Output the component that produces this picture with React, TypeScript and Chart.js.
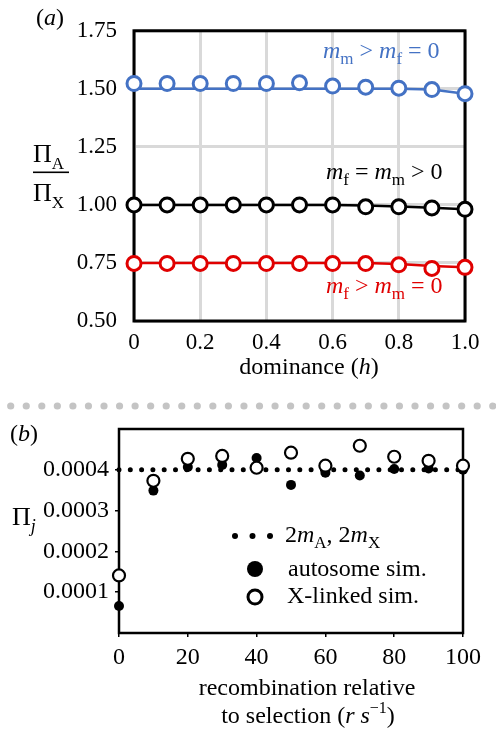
import React, { useEffect, useRef } from 'react';
import { Chart, registerables } from 'chart.js';

Chart.register(...registerables);

// ---------- Panel (a) data ----------
const dominance = [0, 0.1, 0.2, 0.3, 0.4, 0.5, 0.6, 0.7, 0.8, 0.9, 1.0];
const simMaleOnly = [1.523, 1.523, 1.523, 1.523, 1.523, 1.526, 1.512, 1.507, 1.503, 1.497, 1.479];
const theoryMaleOnly = [1.5, 1.5, 1.5, 1.5, 1.5, 1.5, 1.5, 1.5, 1.5, 1.497, 1.479];
const simEqual = [1.0, 1.0, 1.0, 1.0, 1.0, 1.0, 1.0, 0.992, 0.992, 0.987, 0.981];
const theoryEqual = [1.0, 1.0, 1.0, 1.0, 1.0, 1.0, 1.0, 0.997, 0.993, 0.988, 0.981];
const simFemaleOnly = [0.748, 0.748, 0.748, 0.748, 0.7475, 0.7475, 0.7475, 0.7475, 0.742, 0.7265, 0.731];
const theoryFemaleOnly = [0.75, 0.75, 0.75, 0.75, 0.75, 0.75, 0.75, 0.75, 0.745, 0.737, 0.731];
const xTicksA = [0, 0.2, 0.4, 0.6, 0.8, 1.0];
const yTicksA = [0.5, 0.75, 1.0, 1.25, 1.5, 1.75];

// ---------- Panel (b) data ----------
const recombination = [0, 10, 20, 30, 40, 50, 60, 70, 80, 90, 100];
const autosomeSim = [0.000066, 0.000349, 0.000407, 0.000412, 0.000429, 0.000363, 0.000393, 0.000386, 0.000402, 0.000403, 0.0004];
const xlinkedSim = [0.000141, 0.000373, 0.000427, 0.000434, 0.000405, 0.000442, 0.00041, 0.000459, 0.000432, 0.000422, 0.00041];
const expectedX = [0, 100];
const expectedY = [0.0004, 0.0004];
const xTicksB = [0, 20, 40, 60, 80, 100];
const yTicksB = [0.0001, 0.0002, 0.0003, 0.0004];

const FONT = '"Liberation Serif", "Times New Roman", serif';
const BLUE = '#4472C4';
const RED = '#E00000';
const BLACK = '#000000';

type Part = { t: string; i?: boolean; sub?: boolean; sup?: boolean };

function drawRich(
  ctx: CanvasRenderingContext2D,
  parts: Part[],
  x: number,
  y: number,
  size: number,
  color: string,
  align: 'left' | 'center' = 'left',
  subSize?: number
) {
  const ss = subSize ?? Math.round(size * 0.7);
  const fontFor = (p: Part) => `${p.i ? 'italic ' : ''}${p.sub || p.sup ? ss : size}px ${FONT}`;
  let w = 0;
  for (const p of parts) {
    ctx.font = fontFor(p);
    w += ctx.measureText(p.t).width;
  }
  let cx = align === 'center' ? x - w / 2 : x;
  ctx.save();
  ctx.fillStyle = color;
  ctx.textAlign = 'left';
  ctx.textBaseline = 'alphabetic';
  for (const p of parts) {
    ctx.font = fontFor(p);
    const dy = p.sub ? size * 0.25 : p.sup ? -size * 0.4 : 0;
    ctx.fillText(p.t, cx, y + dy);
    cx += ctx.measureText(p.t).width;
  }
  ctx.restore();
}

const pts = (xs: number[], ys: number[]) => xs.map((x, i) => ({ x, y: ys[i] }));

export default function App() {
  const refA = useRef<HTMLCanvasElement>(null);
  const refB = useRef<HTMLCanvasElement>(null);

  useEffect(() => {
    const framePlugin = (lw: number) => ({
      id: 'frame',
      beforeDatasetsDraw(chart: any) {
        const { ctx, chartArea: a } = chart;
        ctx.save();
        ctx.strokeStyle = '#000';
        ctx.lineWidth = lw;
        ctx.strokeRect(a.left, a.top, a.right - a.left, a.bottom - a.top);
        ctx.restore();
      },
    });

    const textA = {
      id: 'textA',
      afterDraw(chart: any) {
        const ctx = chart.ctx as CanvasRenderingContext2D;
        drawRich(ctx, [{ t: '(' }, { t: 'a', i: true }, { t: ')' }], 36, 25, 24, BLACK);
        // y-axis label fraction
        drawRich(ctx, [{ t: 'Π' }, { t: 'A', sub: true }], 33, 162, 26, BLACK, 'left', 17);
        ctx.save();
        ctx.fillStyle = '#000';
        ctx.fillRect(33, 171.5, 36, 1.6);
        ctx.restore();
        drawRich(ctx, [{ t: 'Π' }, { t: 'X', sub: true }], 33, 201, 26, BLACK, 'left', 17);
        // series annotations
        drawRich(
          ctx,
          [{ t: 'm', i: true }, { t: 'm', sub: true }, { t: ' > ' }, { t: 'm', i: true }, { t: 'f', sub: true }, { t: ' = 0' }],
          323, 58, 24, BLUE, 'left', 17
        );
        drawRich(
          ctx,
          [{ t: 'm', i: true }, { t: 'f', sub: true }, { t: ' = ' }, { t: 'm', i: true }, { t: 'm', sub: true }, { t: ' > 0' }],
          326, 179, 24, BLACK, 'left', 17
        );
        drawRich(
          ctx,
          [{ t: 'm', i: true }, { t: 'f', sub: true }, { t: ' > ' }, { t: 'm', i: true }, { t: 'm', sub: true }, { t: ' = 0' }],
          326, 293, 24, RED, 'left', 17
        );
        // x title
        drawRich(ctx, [{ t: 'dominance (' }, { t: 'h', i: true }, { t: ')' }], 309, 374, 24, BLACK, 'center');
      },
    };

    const circles = (ys: number[], color: string) => ({
      data: pts(dominance, ys),
      showLine: false,
      pointRadius: 7,
      pointBorderWidth: 3,
      pointBorderColor: color,
      pointBackgroundColor: '#ffffff',
      clip: false as any,
      order: 0,
    });
    const theory = (ys: number[], color: string) => ({
      data: pts(dominance, ys),
      showLine: true,
      borderColor: color,
      borderWidth: 2.5,
      pointRadius: 0,
      clip: false as any,
      order: 1,
    });

    const chartA = new Chart(refA.current!, {
      type: 'scatter',
      data: {
        datasets: [
          circles(simMaleOnly, BLUE),
          circles(simEqual, BLACK),
          circles(simFemaleOnly, RED),
          theory(theoryMaleOnly, BLUE),
          theory(theoryEqual, BLACK),
          theory(theoryFemaleOnly, RED),
        ] as any,
      },
      options: {
        animation: false,
        responsive: false,
        maintainAspectRatio: false,
        events: [],
        layout: { padding: { left: 0, right: 31, top: 20, bottom: 0 } },
        plugins: { legend: { display: false }, tooltip: { enabled: false } },
        scales: {
          x: {
            type: 'linear',
            min: 0,
            max: 1,
            afterBuildTicks: (s: any) => {
              s.ticks = xTicksA.map((v) => ({ value: v }));
            },
            afterFit: (s: any) => {
              s.height = 79;
            },
            grid: { color: '#d9d9d9', lineWidth: 3, drawTicks: false },
            border: { display: false },
            ticks: {
              padding: 8,
              color: '#000',
              font: { family: FONT, size: 23 },
              maxRotation: 0,
              callback: (v: any) => (Number(v) === 0 ? '0' : Number(v).toFixed(1)),
            },
          },
          y: {
            type: 'linear',
            min: 0.5,
            max: 1.75,
            afterBuildTicks: (s: any) => {
              s.ticks = yTicksA.map((v) => ({ value: v }));
            },
            afterFit: (s: any) => {
              s.width = 134;
            },
            grid: { color: '#d9d9d9', lineWidth: 3, drawTicks: false },
            border: { display: false },
            ticks: {
              padding: 17,
              color: '#000',
              font: { family: FONT, size: 23 },
              callback: (v: any) => Number(v).toFixed(2),
            },
          },
        },
      } as any,
      plugins: [framePlugin(3), textA],
    });

    const textB = {
      id: 'textB',
      beforeDraw(chart: any) {
        const ctx = chart.ctx as CanvasRenderingContext2D;
        // dotted separator
        ctx.save();
        ctx.fillStyle = '#c4c4c4';
        for (let x = 10.7; x < 496; x += 15.55) {
          ctx.beginPath();
          ctx.arc(x, 6, 3.6, 0, Math.PI * 2);
          ctx.fill();
        }
        ctx.restore();
      },
      afterDraw(chart: any) {
        const ctx = chart.ctx as CanvasRenderingContext2D;
        drawRich(ctx, [{ t: '(' }, { t: 'b', i: true }, { t: ')' }], 10, 41, 24, BLACK);
        drawRich(ctx, [{ t: 'Π' }, { t: 'j', i: true, sub: true }], 12, 125, 26, BLACK, 'left', 18);
        // legend
        ctx.save();
        ctx.fillStyle = '#000';
        for (const dx of [235, 252.5, 270]) {
          ctx.beginPath();
          ctx.arc(dx, 136, 3, 0, Math.PI * 2);
          ctx.fill();
        }
        ctx.beginPath();
        ctx.arc(255, 169, 8, 0, Math.PI * 2);
        ctx.fill();
        ctx.beginPath();
        ctx.arc(255, 197, 7, 0, Math.PI * 2);
        ctx.fillStyle = '#fff';
        ctx.fill();
        ctx.lineWidth = 3;
        ctx.strokeStyle = '#000';
        ctx.stroke();
        ctx.restore();
        drawRich(
          ctx,
          [{ t: '2' }, { t: 'm', i: true }, { t: 'A', sub: true }, { t: ', 2' }, { t: 'm', i: true }, { t: 'X', sub: true }],
          285, 142, 24, BLACK, 'left', 17
        );
        drawRich(ctx, [{ t: 'autosome sim.' }], 288, 176, 24, BLACK);
        drawRich(ctx, [{ t: 'X-linked sim.' }], 287, 203, 24, BLACK);
        // x title
        drawRich(ctx, [{ t: 'recombination relative' }], 307, 295, 24, BLACK, 'center');
        drawRich(
          ctx,
          [{ t: 'to selection (' }, { t: 'r', i: true }, { t: ' ' }, { t: 's', i: true }, { t: '−1', sup: true }, { t: ')' }],
          308, 323, 24, BLACK, 'center', 16
        );
      },
    };

    const chartB = new Chart(refB.current!, {
      type: 'scatter',
      data: {
        datasets: [
          {
            data: pts(recombination, xlinkedSim),
            showLine: false,
            pointRadius: 6,
            pointBorderWidth: 2.2,
            pointBorderColor: '#000',
            pointBackgroundColor: '#fff',
            clip: false,
            order: 0,
          },
          {
            data: pts(recombination, autosomeSim),
            showLine: false,
            pointRadius: 5,
            pointBorderWidth: 0,
            pointBackgroundColor: '#000',
            clip: false,
            order: 1,
          },
          {
            data: pts(expectedX, expectedY),
            showLine: true,
            borderColor: '#000',
            borderWidth: 5,
            borderDash: [0, 11.3],
            borderCapStyle: 'round',
            pointRadius: 0,
            clip: false,
            order: 2,
          },
        ] as any,
      },
      options: {
        animation: false,
        responsive: false,
        maintainAspectRatio: false,
        events: [],
        layout: { padding: { left: 0, right: 33, top: 29, bottom: 0 } },
        plugins: { legend: { display: false }, tooltip: { enabled: false } },
        scales: {
          x: {
            type: 'linear',
            min: 0,
            max: 100,
            afterBuildTicks: (s: any) => {
              s.ticks = xTicksB.map((v) => ({ value: v }));
            },
            afterFit: (s: any) => {
              s.height = 96;
            },
            grid: { drawOnChartArea: false, drawTicks: true, tickLength: 4, color: '#000', lineWidth: 1.5 },
            border: { display: false },
            ticks: {
              padding: 6,
              color: '#000',
              font: { family: FONT, size: 24 },
              maxRotation: 0,
              callback: (v: any) => String(v),
            },
          },
          y: {
            type: 'linear',
            min: 0,
            max: 0.0005,
            afterBuildTicks: (s: any) => {
              s.ticks = yTicksB.map((v) => ({ value: v }));
            },
            afterFit: (s: any) => {
              s.width = 119;
            },
            grid: { drawOnChartArea: false, drawTicks: true, tickLength: 4, color: '#000', lineWidth: 1.5 },
            border: { display: false },
            ticks: {
              padding: 6,
              color: '#000',
              font: { family: FONT, size: 24 },
              callback: (v: any) => Number(v).toFixed(4),
            },
          },
        },
      } as any,
      plugins: [framePlugin(2.5), textB],
    });

    return () => {
      chartA.destroy();
      chartB.destroy();
    };
  }, []);

  return (
    <div style={{ position: 'absolute', left: 0, top: 0, width: 496, height: 729, background: '#fff' }}>
      <canvas ref={refA} width={496} height={400} style={{ display: 'block', width: 496, height: 400 }} />
      <canvas ref={refB} width={496} height={329} style={{ display: 'block', width: 496, height: 329 }} />
    </div>
  );
}
